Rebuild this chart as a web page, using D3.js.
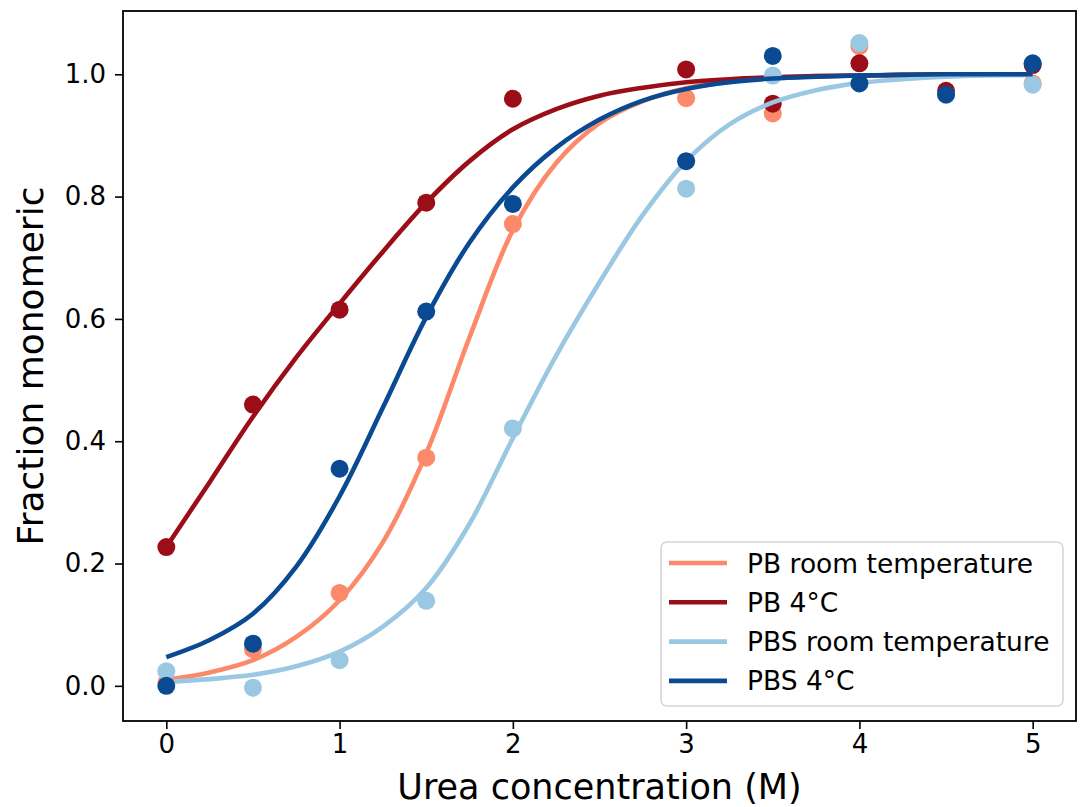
<!DOCTYPE html>
<html>
<head>
<meta charset="utf-8">
<script src="https://cdn.jsdelivr.net/npm/d3@7"></script>
<style>
    body { margin: 0; background: #fff; }
    svg { display: block; font-family: "DejaVu Sans", sans-serif; }
</style>
</head>
<body>
<svg id="chart_svg"></svg>
<script>
// measured concentrations (M)
const pointX = [0, 0.5, 1, 1.5, 2, 3, 3.5, 4, 4.5, 5];
const pbRoomPts = [0.005, 0.06, 0.152, 0.373, 0.755, 0.961, 0.936, 1.046, 0.968, 0.985];
const pb4Pts = [0.227, 0.46, 0.615, 0.79, 0.96, 1.008, 0.952, 1.018, 0.973, 1.015];
const pbsRoomPts = [0.024, -0.003, 0.042, 0.139, 0.421, 0.813, 0.998, 1.051, 0.966, 0.983];
const pbs4Pts = [0.0, 0.069, 0.355, 0.612, 0.788, 0.858, 1.03, 0.985, 0.967, 1.018];

// fitted curves, every 0.25 M
const curveX = [0, 0.25, 0.5, 0.75, 1, 1.25, 1.5, 1.75, 2, 2.25, 2.5, 2.75, 3, 3.25, 3.5, 3.75, 4, 4.25, 4.5, 4.75, 5];
const pbRoomFit = [0.010, 0.022, 0.042, 0.080, 0.140, 0.235, 0.380, 0.570, 0.745, 0.855, 0.920, 0.956, 0.977, 0.988, 0.994, 0.997, 0.998, 0.999, 1.0, 1.0, 1.0];
const pb4Fit = [0.227, 0.333, 0.440, 0.537, 0.625, 0.710, 0.790, 0.858, 0.910, 0.943, 0.965, 0.978, 0.987, 0.992, 0.995, 0.997, 0.998, 0.999, 1.0, 1.0, 1.0];
const pbsRoomFit = [0.0065, 0.011, 0.018, 0.032, 0.056, 0.097, 0.160, 0.265, 0.405, 0.540, 0.660, 0.770, 0.858, 0.918, 0.954, 0.974, 0.986, 0.992, 0.996, 0.998, 0.999];
const pbs4Fit = [0.047, 0.075, 0.118, 0.195, 0.310, 0.455, 0.603, 0.725, 0.815, 0.880, 0.926, 0.957, 0.976, 0.987, 0.993, 0.996, 0.998, 0.999, 1.0, 1.0, 1.0];

const seriesNames = ['PB room temperature', 'PB 4\u00B0C', 'PBS room temperature', 'PBS 4\u00B0C'];
const seriesColors = ['#fc8a6a', '#9c0e17', '#9ac8e2', '#0a4a92'];
const seriesPts = [pbRoomPts, pb4Pts, pbsRoomPts, pbs4Pts];
const seriesFit = [pbRoomFit, pb4Fit, pbsRoomFit, pbs4Fit];

const xTicks = [0, 1, 2, 3, 4, 5];
const yTicks = [0.0, 0.2, 0.4, 0.6, 0.8, 1.0];

const width = 1082;
const height = 807;
const plot = {left: 123, right: 1076, top: 11, bottom: 721};

const svg = d3.select('#chart_svg')
    .attr('width', width)
    .attr('height', height);

const xScale = d3.scaleLinear()
    .domain([-0.25, 5.25])
    .range([plot.left, plot.right]);

const yScale = d3.scaleLinear()
    .domain([-0.0575, 1.1035])
    .range([plot.bottom, plot.top]);

const line = d3.line()
    .x(d => xScale(d[0]))
    .y(d => yScale(d[1]))
    .curve(d3.curveCatmullRom);

// scatter then fit, series by series
seriesNames.forEach((name, i) => {
    svg.append('g')
        .selectAll('circle')
        .data(pointX.map((x, j) => [x, seriesPts[i][j]]))
        .enter()
        .append('circle')
        .attr('cx', d => xScale(d[0]))
        .attr('cy', d => yScale(d[1]))
        .attr('r', 9)
        .attr('fill', seriesColors[i]);

    svg.append('path')
        .datum(curveX.map((x, j) => [x, seriesFit[i][j]]))
        .attr('fill', 'none')
        .attr('stroke', seriesColors[i])
        .attr('stroke-width', 4.6)
        .attr('d', line);
});

// axes
const xAxis = svg.append('g')
    .attr('transform', `translate(0, ${plot.bottom})`)
    .call(d3.axisBottom(xScale).tickValues(xTicks).tickFormat(d3.format('d')).tickSize(8).tickPadding(6));

const yAxis = svg.append('g')
    .attr('transform', `translate(${plot.left}, 0)`)
    .call(d3.axisLeft(yScale).tickValues(yTicks).tickFormat(d3.format('.1f')).tickSize(8).tickPadding(9));

[xAxis, yAxis].forEach(ax => {
    ax.select('.domain').remove();
    ax.selectAll('line').attr('stroke', '#000').attr('stroke-width', 1.6);
    ax.selectAll('text')
        .attr('fill', '#000')
        .style('font-family', '"DejaVu Sans", sans-serif')
        .style('font-size', '26px');
});

// frame
svg.append('rect')
    .attr('x', plot.left)
    .attr('y', plot.top)
    .attr('width', plot.right - plot.left)
    .attr('height', plot.bottom - plot.top)
    .attr('fill', 'none')
    .attr('stroke', '#000')
    .attr('stroke-width', 1.8);

svg.append('text')
    .attr('x', (plot.left + plot.right) / 2)
    .attr('y', 799)
    .style('text-anchor', 'middle')
    .style('font-size', '35px')
    .text('Urea concentration (M)');

svg.append('text')
    .attr('transform', `translate(43, ${(plot.top + plot.bottom) / 2}) rotate(-90)`)
    .style('text-anchor', 'middle')
    .style('font-size', '36px')
    .text('Fraction monomeric');

// legend
const legend = svg.append('g');

legend.append('rect')
    .attr('x', 661)
    .attr('y', 542)
    .attr('width', 402)
    .attr('height', 164)
    .attr('rx', 6)
    .attr('fill', '#fff')
    .attr('fill-opacity', 0.8)
    .attr('stroke', '#d6d6d6')
    .attr('stroke-width', 1.6);

seriesNames.forEach((name, i) => {
    const y = 563 + i * 39.3;
    legend.append('line')
        .attr('x1', 669)
        .attr('x2', 727)
        .attr('y1', y)
        .attr('y2', y)
        .attr('stroke', seriesColors[i])
        .attr('stroke-width', 4.6);
    legend.append('text')
        .attr('x', 747)
        .attr('y', y + 9.5)
        .style('font-size', '26.5px')
        .text(name);
});
</script>
</body>
</html>
